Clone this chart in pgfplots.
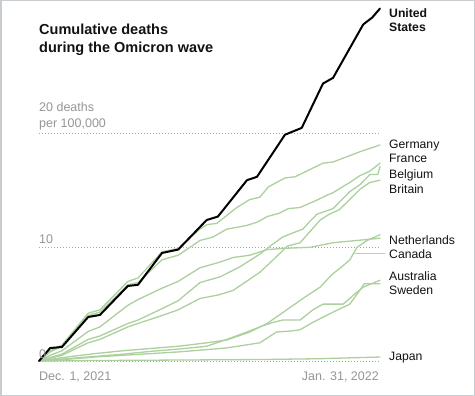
\documentclass[border=0pt]{standalone}
\usepackage{pgfplots}
\pgfplotsset{compat=1.18}
\usepackage{fontspec}
\setmainfont{Liberation Sans}
\definecolor{grn}{RGB}{172,208,158}
\definecolor{gtxt}{RGB}{150,150,150}
\definecolor{frm}{RGB}{200,205,210}
\definecolor{ttl}{RGB}{18,18,18}
\newcommand\labfont{\fontsize{12.2bp}{14bp}\selectfont}
\newcommand\axfont{\fontsize{12.5bp}{14bp}\selectfont}
\begin{document}
\begin{tikzpicture}
\useasboundingbox (0,0) rectangle (475bp,396bp);
\fill[white] (0,0) rectangle (475bp,396bp);
\begin{axis}[at={(39bp,35bp)}, anchor=south west, scale only axis,
  width=341bp, height=352.5bp, xmin=0, xmax=61, ymin=0, ymax=31,
  axis line style={draw=none}, tick style={draw=none},
  xtick=\empty, ytick={0,10,20}, yticklabels={,,},
  yticklabel style={text opacity=0},
  ymajorgrids, grid style={gray!70, line width=0.8bp, dash pattern=on 1bp off 2bp},
  clip=false,
  every axis plot/.append style={line join=round, line cap=round}]
% Japan
\addplot[grn, line width=1.3bp] coordinates {(0,0)(10,0.04)(20,0.07)(30,0.1)(40,0.13)(50,0.2)(61,0.35)};
% Sweden
\addplot[grn, line width=1.3bp] coordinates {(0,0)(5,0.15)(10,0.35)(15,0.5)(20,0.65)(25,0.8)(30,1.0)(33.6,1.15)(39.5,1.6)(42.5,2.55)(45.3,2.65)(46.7,2.75)(49,3.4)(52.6,4.3)(55.6,5.0)(57.5,6.3)(58.2,6.8)(61,6.8)};
% Australia
\addplot[grn, line width=1.3bp] coordinates {(0,0)(5,0.2)(10,0.4)(15,0.6)(20,0.85)(25,1.05)(30,1.3)(33.6,1.9)(37.2,2.55)(39.5,3.0)(41.9,3.4)(43.6,3.6)(46.7,3.6)(49,4.5)(50.8,5.0)(54.4,5.0)(55.6,5.5)(56.5,5.9)(58,6.5)(61,7.1)};
% Canada
\addplot[grn, line width=1.3bp] coordinates {(0,0)(5,0.35)(10,0.65)(15,0.9)(20,1.1)(25,1.3)(30,1.6)(33.6,1.85)(37.7,2.55)(40.8,3.3)(44.9,4.7)(47.2,5.5)(50.3,6.5)(52.4,7.6)(54.2,8.3)(55.6,8.9)(56.9,10.0)(58.7,10.6)(61,11.1)};
% Netherlands
\addplot[grn, line width=1.3bp] coordinates {(0,0)(2,0.5)(4.1,0.9)(8.8,2.6)(10.9,3.0)(15.9,4.9)(17.7,5.4)(22,6.4)(24.9,7.0)(28.8,8.2)(32.4,8.7)(34.7,9.1)(37.7,9.3)(40.8,9.8)(43.6,9.9)(48.5,10.0)(52.6,10.4)(56.9,10.6)(61,10.8)};
% Britain
\addplot[grn, line width=1.3bp] coordinates {(0,0)(2,0.25)(4.1,0.5)(8.8,1.6)(10.9,1.9)(15.9,3.0)(17.7,3.3)(22,4.0)(24.9,4.5)(28.8,5.5)(32,5.8)(34.7,6.2)(39.5,7.8)(41.9,8.9)(44.4,10.1)(46.7,10.4)(48.5,11.4)(50.3,12.4)(51.9,12.9)(53.7,13.3)(55.6,14.2)(57.4,15.1)(59.2,15.7)(61,15.9)};
% Belgium
\addplot[grn, line width=1.3bp] coordinates {(0,0)(2,0.3)(4.1,0.6)(8.8,1.9)(10.9,2.2)(15.9,3.3)(17.7,3.6)(22,4.6)(24.9,5.3)(28.8,6.9)(32.4,7.4)(36,8.3)(39.5,9.4)(41.6,10.2)(43.6,10.9)(45.6,11.3)(47.2,11.6)(48.5,12.3)(49.7,12.9)(51.4,13.2)(52.6,13.4)(54.2,14.2)(55.6,14.9)(57.4,15.5)(59.2,16.4)(60.6,16.4)(61,17.1)};
% France
\addplot[grn, line width=1.3bp] coordinates {(0,0)(2,0.8)(4.1,1.3)(8.8,4.0)(10.9,4.3)(15.9,6.7)(17.7,6.9)(22,8.9)(24.9,9.3)(28.8,10.6)(31.1,10.9)(33.6,11.6)(37,11.9)(39,12.2)(40.8,12.7)(43,13.0)(44.6,13.4)(46.7,13.5)(49.5,14.1)(51.6,14.6)(52.6,14.8)(53.9,15.2)(55.6,15.7)(57.4,16.3)(59.2,16.7)(61,17.4)};
% Germany
\addplot[grn, line width=1.3bp] coordinates {(0,0)(2,0.9)(4.1,1.4)(8.8,4.2)(10.9,4.5)(15.9,7.0)(17.7,7.3)(22,9.6)(24.9,9.9)(28.8,11.6)(30.1,12.0)(31.8,12.1)(35.4,13.5)(37.7,14.2)(39.5,14.4)(41,15.3)(44,16.1)(45.8,16.2)(50.8,17.4)(52.6,17.5)(57.4,18.4)(59.2,18.7)(61,19.0)};
% Canada leader
\addplot[gray!45, line width=0.9bp] coordinates {(56.5,9.5)(61.9,9.5)};
% United States
\addplot[black, line width=2bp] coordinates {(0,0)(2,1.14)(4.1,1.23)(8.8,3.87)(10.9,4.05)(15.9,6.6)(17.7,6.7)(22,9.5)(24.9,9.8)(30,12.4)(32,12.7)(37.2,15.9)(39,16.2)(44,19.9)(47,20.5)(50.8,24.4)(52.6,24.9)(58,29.6)(59.6,30.2)(61,31.0)};
\end{axis}
% title
\node[anchor=base west, inner sep=0, text=ttl] at (39bp,361bp) {\fontsize{14.5bp}{16bp}\selectfont\bfseries Cumulative deaths};
\node[anchor=base west, inner sep=0, text=ttl] at (39bp,343.3bp) {\fontsize{14.5bp}{16bp}\selectfont\bfseries during the Omicron wave};
% y labels
\node[anchor=base west, inner sep=0, text=gtxt] at (39bp,284bp) {\axfont 20 deaths};
\node[anchor=base west, inner sep=0, text=gtxt] at (39bp,268bp) {\axfont per 100,000};
\node[anchor=base west, inner sep=0, text=gtxt] at (39bp,152bp) {\axfont 10};
\node[anchor=base west, inner sep=0, text=gtxt] at (39bp,38bp) {\axfont 0};
% x labels
\node[anchor=base west, inner sep=0, text=gtxt] at (39bp,16bp) {\axfont Dec. 1, 2021};
\node[anchor=base east, inner sep=0, text=gtxt] at (379bp,16bp) {\axfont Jan. 31, 2022};
% series labels
\node[anchor=base west, inner sep=0, text=ttl] at (389bp,378.7bp) {\labfont\bfseries United};
\node[anchor=base west, inner sep=0, text=ttl] at (389bp,364.3bp) {\labfont\bfseries States};
\node[anchor=base west, inner sep=0, text=ttl] at (389bp,247.7bp) {\labfont Germany};
\node[anchor=base west, inner sep=0, text=ttl] at (389bp,233bp) {\labfont France};
\node[anchor=base west, inner sep=0, text=ttl] at (389bp,217.7bp) {\labfont Belgium};
\node[anchor=base west, inner sep=0, text=ttl] at (389bp,202.7bp) {\labfont Britain};
\node[anchor=base west, inner sep=0, text=ttl] at (389bp,151.7bp) {\labfont Netherlands};
\node[anchor=base west, inner sep=0, text=ttl] at (389bp,137bp) {\labfont Canada};
\node[anchor=base west, inner sep=0, text=ttl] at (389bp,115.7bp) {\labfont Australia};
\node[anchor=base west, inner sep=0, text=ttl] at (389bp,101bp) {\labfont Sweden};
\node[anchor=base west, inner sep=0, text=ttl] at (389bp,35.3bp) {\labfont Japan};
\draw[frm, line width=1.5bp] (0.75bp,0.75bp) rectangle (474.25bp,395.25bp);
\end{tikzpicture}
\end{document}
